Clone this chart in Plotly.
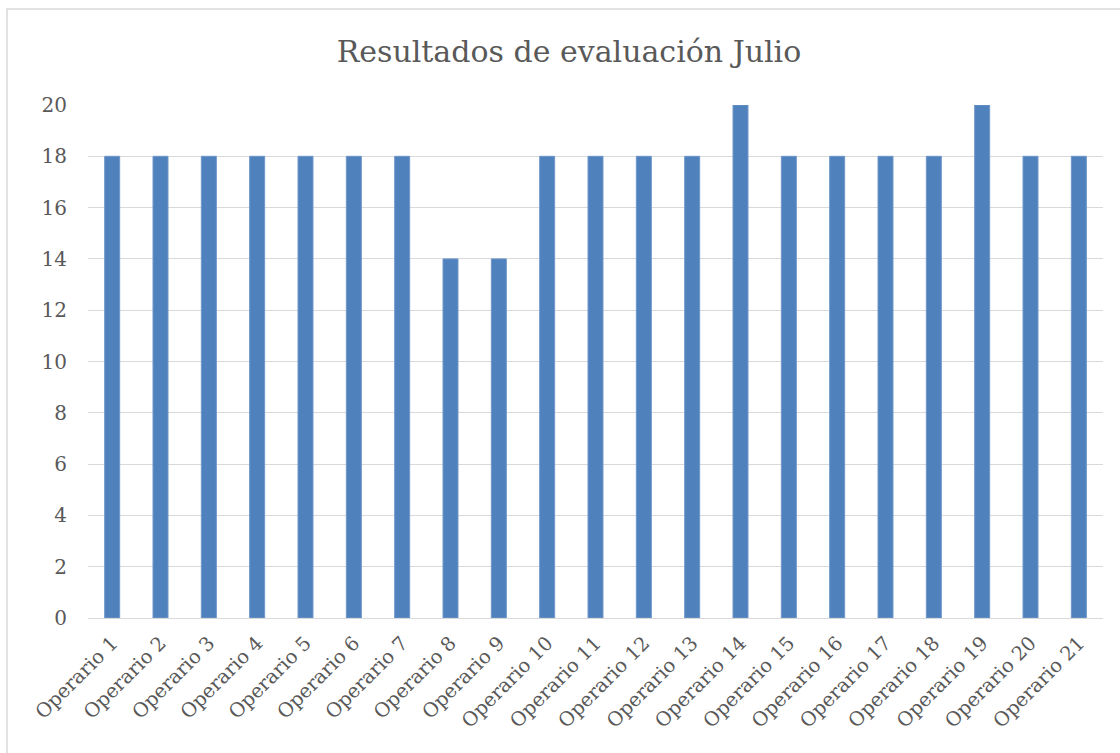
import plotly.graph_objects as go

categories = [f"Operario {i}" for i in range(1, 22)]
values = [18, 18, 18, 18, 18, 18, 18, 14, 14, 18, 18, 18, 18, 20, 18, 18, 18, 18, 20, 18, 18]
y_ticks = list(range(0, 21, 2))

font_family = "DejaVu Serif, Liberation Serif, serif"

fig = go.Figure(go.Bar(
    x=categories, y=values,
    marker=dict(color="#4F81BD", line=dict(color="#6f97c9", width=1)),
))

fig.update_layout(
    width=1120, height=753,
    margin=dict(l=88, r=17, t=105, b=135),
    paper_bgcolor="white", plot_bgcolor="white",
    bargap=0.69,
    title=dict(text="Resultados de evaluación Julio", x=0.508, xanchor="center",
               y=0.931, yanchor="middle",
               font=dict(family=font_family, size=30, color="#595959")),
    font=dict(family=font_family, size=19, color="#595959"),
    showlegend=False,
    xaxis=dict(tickangle=-45, showgrid=False, showline=True, linecolor="#d9d9d9",
               linewidth=1, ticks="", ticklabelstandoff=5,
               tickfont=dict(size=19.5, color="#595959")),
    yaxis=dict(range=[0, 20], tickvals=y_ticks, showgrid=True, gridcolor="#d9d9d9",
               gridwidth=1, zeroline=False, showline=False, ticks="",
               ticklabelstandoff=20,
               tickfont=dict(size=20, color="#595959")),
    shapes=[dict(type="rect", xref="paper", yref="paper",
                 x0=-0.0798, x1=1.05, y0=-0.30, y1=1.187,
                 line=dict(color="#d9d9d9", width=1.5), fillcolor="rgba(0,0,0,0)",
                 layer="below")],
)

fig.write_html("out.html", config={"displayModeBar": False},
               post_script="document.body.style.margin='0';")
